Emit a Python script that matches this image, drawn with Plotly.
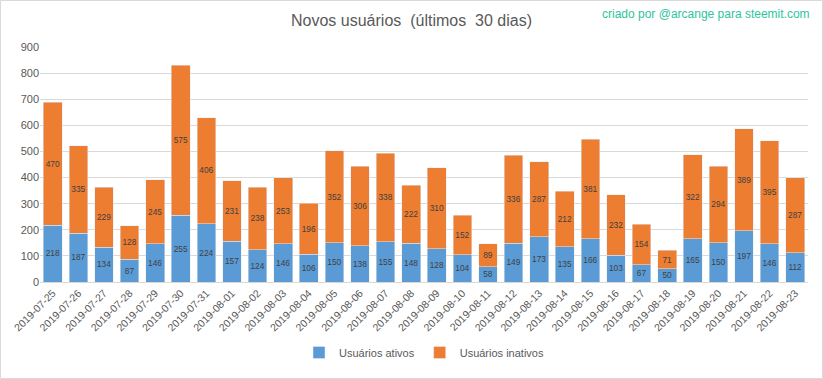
import plotly.graph_objects as go

dates = ["2019-07-25","2019-07-26","2019-07-27","2019-07-28","2019-07-29","2019-07-30","2019-07-31",
         "2019-08-01","2019-08-02","2019-08-03","2019-08-04","2019-08-05","2019-08-06","2019-08-07",
         "2019-08-08","2019-08-09","2019-08-10","2019-08-11","2019-08-12","2019-08-13","2019-08-14",
         "2019-08-15","2019-08-16","2019-08-17","2019-08-18","2019-08-19","2019-08-20","2019-08-21",
         "2019-08-22","2019-08-23"]
ativos = [218,187,134,87,146,255,224,157,124,146,106,150,138,155,148,128,104,58,149,173,135,166,103,67,50,165,150,197,146,112]
inativos = [470,335,229,128,245,575,406,231,238,253,196,352,306,338,222,310,152,89,336,287,212,381,232,154,71,322,294,389,395,287]
y_ticks = [0,100,200,300,400,500,600,700,800,900]

FONT = "Liberation Sans, Arial, sans-serif"

fig = go.Figure()
fig.add_trace(go.Bar(x=dates, y=ativos, name="Usuários ativos", marker_color="#5b9bd5",
                     text=ativos, textposition="inside", insidetextanchor="middle",
                     textfont=dict(size=10, color="#404040", family=FONT), textangle=0))
fig.add_trace(go.Bar(x=dates, y=inativos, name="Usuários inativos", marker_color="#ed7d31",
                     text=inativos, textposition="inside", insidetextanchor="middle",
                     textfont=dict(size=10, color="#404040", family=FONT), textangle=0))

fig.update_layout(
    barmode="stack", bargap=0.27,
    width=823, height=379,
    margin=dict(l=40, r=15, t=47, b=97, autoexpand=False),
    paper_bgcolor="white", plot_bgcolor="white",
    font=dict(family=FONT, color="#595959", size=11),
    title=dict(text="Novos usuários  (últimos  30 dias)", x=0.5, xanchor="center",
               y=0.947, yref="container", yanchor="middle",
               font=dict(size=16, color="#595959", family=FONT)),
    uniformtext=dict(mode="show", minsize=8),
    legend=dict(orientation="h", x=0.5, xanchor="center", y=-0.30, yanchor="middle",
                font=dict(size=11, color="#595959"), traceorder="normal"),
    xaxis=dict(type="category", tickangle=-45, tickfont=dict(size=10.5, color="#595959"),
               showline=True, linecolor="#d9d9d9", ticks="", automargin=False),
    yaxis=dict(range=[0, 900], tickvals=y_ticks, showgrid=True, gridcolor="#d9d9d9",
               tickfont=dict(size=11, color="#595959"), zeroline=False, ticks="", automargin=False),
    annotations=[dict(text="criado por @arcange para steemit.com", xref="paper", yref="paper",
                      x=1.005, y=1.14, xanchor="right", yanchor="middle", showarrow=False,
                      font=dict(size=12, color="#2ec4a0", family=FONT))],
    shapes=[dict(type="rect", xref="paper", yref="paper",
                 x0=-39.5/768, x1=1+14.5/768, y0=-96.5/235, y1=1+46.5/235,
                 line=dict(color="#d9d9d9", width=1), fillcolor="rgba(0,0,0,0)", layer="below")],
)
fig.write_html("out.html", config={"displayModeBar": False},
               post_script="document.body.style.margin='0';document.body.style.padding='0';")
